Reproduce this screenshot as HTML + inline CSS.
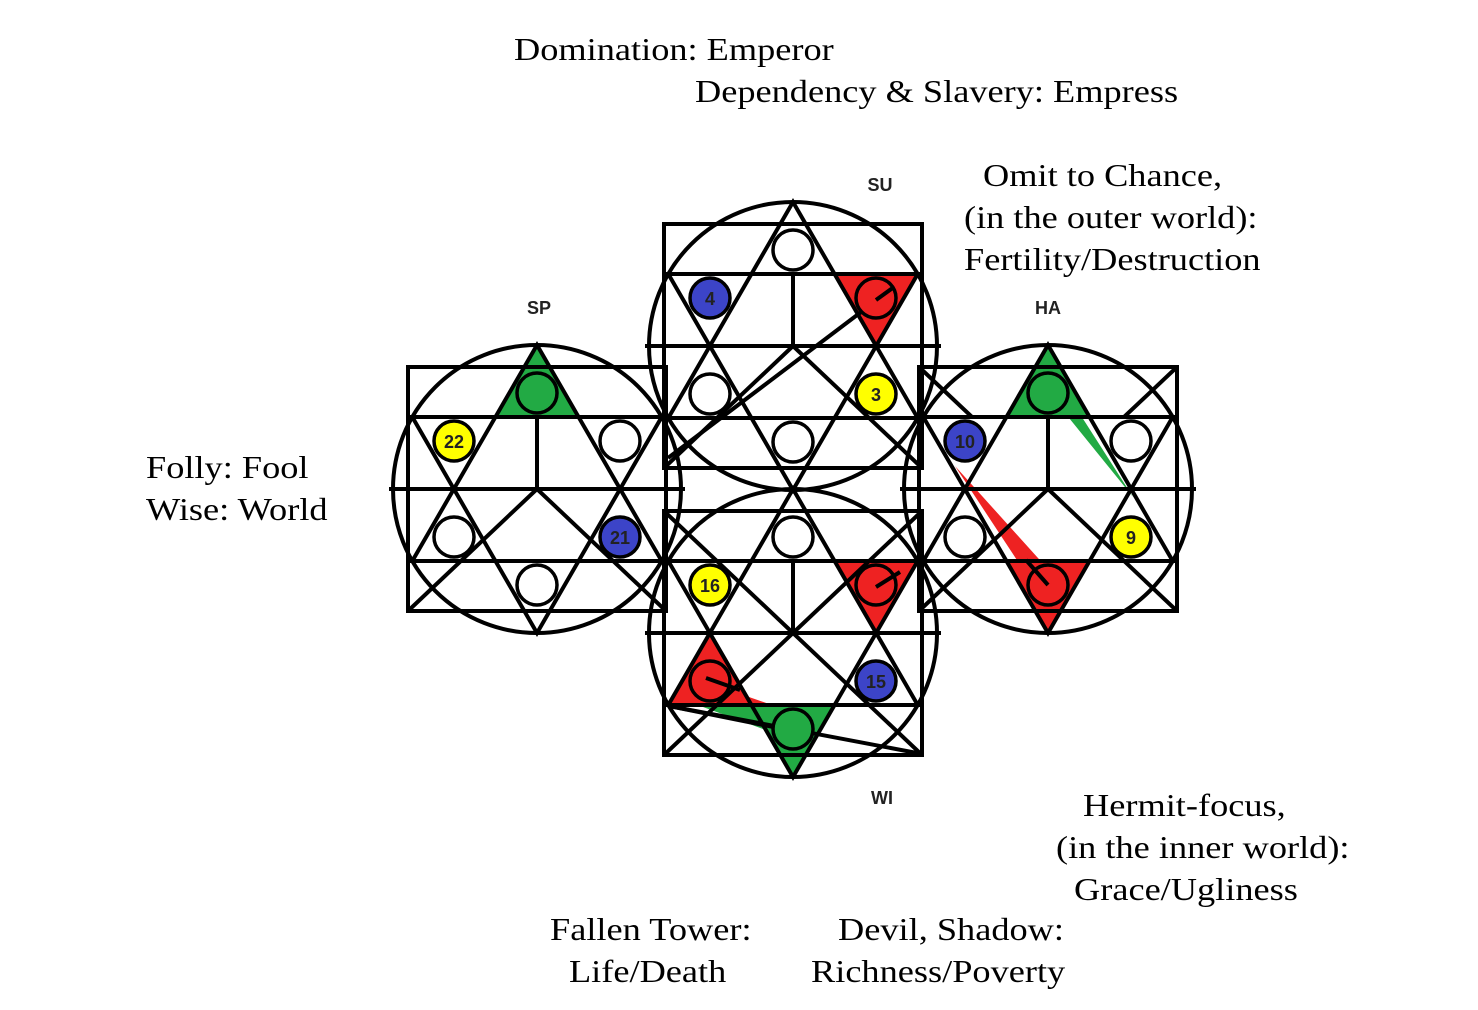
<!DOCTYPE html>
<html><head><meta charset="utf-8">
<style>
html,body{margin:0;padding:0;background:#fff;}
body{width:1478px;height:1010px;position:relative;overflow:hidden;}
.t{position:absolute;font-family:"Liberation Serif",serif;font-size:32px;line-height:1;white-space:nowrap;color:#000;transform:scaleX(1.135);transform-origin:0 0;}
</style></head><body>
<svg width="1478" height="1010" style="position:absolute;left:0;top:0" xmlns="http://www.w3.org/2000/svg">
<defs>
<g id="m" fill="none" stroke="#000" stroke-width="4">
<circle cx="0" cy="0" r="144"/>
<rect x="-129" y="-122" width="258" height="244"/>
<polygon points="0,-144 -124.7,72 124.7,72"/>
<polygon points="0,144 -124.7,-72 124.7,-72"/>
<line x1="-129" y1="-72" x2="129" y2="-72"/>
<line x1="-129" y1="72" x2="129" y2="72"/>
<line x1="-148" y1="0" x2="148" y2="0"/>
<line x1="0" y1="0" x2="0" y2="-72"/>
<line x1="0" y1="0" x2="-129" y2="122"/>
<line x1="0" y1="0" x2="129" y2="122"/>
</g>
<g id="wc"><circle r="20" fill="#fff" stroke="#000" stroke-width="3.5"/></g>
</defs>
<g stroke="none">
<polygon fill="#ee2222" points="917.7,274 834.6,274 876.1,346"/>
<polygon fill="#22aa44" points="537,345 495.4,417 578.6,417"/>
<polygon fill="#22aa44" points="1048,345 1006.4,417 1089.6,417"/>
<polygon fill="#22aa44" points="1048,392 1062,386 1133,497"/>
<polygon fill="#ee2222" points="1048,633 1006.4,561 1089.6,561"/>
<polygon fill="#ee2222" points="955,466 1056,578 1038,592"/>
<polygon fill="#ee2222" points="917.7,561 834.6,561 876.1,633"/>
<polygon fill="#ee2222" points="668.3,705 751.4,705 709.9,633"/>
<polygon fill="#ee2222" points="700,680 772,705 700,705"/>
<polygon fill="#22aa44" points="793,777 751.4,705 834.6,705"/>
<polygon fill="#22aa44" points="703,707 760,707 785,737"/>
</g>
<use href="#m" x="793" y="346"/>
<use href="#m" x="537" y="489"/>
<use href="#m" x="1048" y="489"/>
<use href="#m" x="793" y="633"/>
<g stroke="#000" stroke-width="4" fill="none">
<line x1="793" y1="633" x2="664" y2="511"/>
<line x1="793" y1="633" x2="922" y2="511"/>
<line x1="919" y1="367" x2="972" y2="417"/>
<line x1="1177" y1="367" x2="1124" y2="417"/>
<line x1="877" y1="300" x2="668" y2="458"/>
<line x1="669" y1="706" x2="917" y2="753"/>
<line x1="669" y1="706" x2="793" y2="731"/>
</g>
<g>
<use href="#wc" x="793" y="250"/><use href="#wc" x="710" y="394"/><use href="#wc" x="793" y="442"/>
<use href="#wc" x="620" y="441"/><use href="#wc" x="454" y="537"/><use href="#wc" x="537" y="585"/>
<use href="#wc" x="1131" y="441"/><use href="#wc" x="965" y="537"/>
<use href="#wc" x="793" y="537"/>
</g>
<g stroke="#000" stroke-width="3.5">
<circle cx="876" cy="298" r="20" fill="#ee2222"/>
<circle cx="710" cy="298" r="20" fill="#3c44c8"/>
<circle cx="876" cy="394" r="20" fill="#ffff00"/>
<circle cx="537" cy="393" r="20" fill="#22aa44"/>
<circle cx="454" cy="441" r="20" fill="#ffff00"/>
<circle cx="620" cy="537" r="20" fill="#3c44c8"/>
<circle cx="1048" cy="393" r="20" fill="#22aa44"/>
<circle cx="1048" cy="585" r="20" fill="#ee2222"/>
<circle cx="965" cy="441" r="20" fill="#3c44c8"/>
<circle cx="1131" cy="537" r="20" fill="#ffff00"/>
<circle cx="876" cy="585" r="20" fill="#ee2222"/>
<circle cx="710" cy="681" r="20" fill="#ee2222"/>
<circle cx="793" cy="729" r="20" fill="#22aa44"/>
<circle cx="710" cy="585" r="20" fill="#ffff00"/>
<circle cx="876" cy="681" r="20" fill="#3c44c8"/>
</g>
<g stroke="#000" stroke-width="4">
<line x1="876" y1="300" x2="894" y2="287"/>
<line x1="876" y1="587" x2="900" y2="572"/>
<line x1="706" y1="678" x2="740" y2="690"/>
<line x1="1048" y1="585" x2="1026" y2="560"/>
</g>
<g font-family="Liberation Sans, sans-serif" font-weight="bold" font-size="18" text-anchor="middle" fill="#222">
<text x="710" y="305">4</text><text x="876" y="401">3</text>
<text x="454" y="448">22</text><text x="620" y="544">21</text>
<text x="965" y="448">10</text><text x="1131" y="544">9</text>
<text x="710" y="592">16</text><text x="876" y="688">15</text>
<text x="880" y="191">SU</text><text x="539" y="314">SP</text>
<text x="1048" y="314">HA</text><text x="882" y="804">WI</text>
</g>
</svg>
<div class="t" style="left:514px;top:33px">Domination: Emperor</div>
<div class="t" style="left:695px;top:75px">Dependency &amp; Slavery: Empress</div>
<div class="t" style="left:983px;top:159px">Omit to Chance,</div>
<div class="t" style="left:964px;top:201px">(in the outer world):</div>
<div class="t" style="left:964px;top:243px">Fertility/Destruction</div>
<div class="t" style="left:146px;top:451px">Folly: Fool</div>
<div class="t" style="left:146px;top:493px">Wise: World</div>
<div class="t" style="left:1083px;top:789px">Hermit-focus,</div>
<div class="t" style="left:1056px;top:831px">(in the inner world):</div>
<div class="t" style="left:1074px;top:873px">Grace/Ugliness</div>
<div class="t" style="left:550px;top:913px">Fallen Tower:</div>
<div class="t" style="left:569px;top:955px">Life/Death</div>
<div class="t" style="left:838px;top:913px">Devil, Shadow:</div>
<div class="t" style="left:811px;top:955px">Richness/Poverty</div>
</body></html>
